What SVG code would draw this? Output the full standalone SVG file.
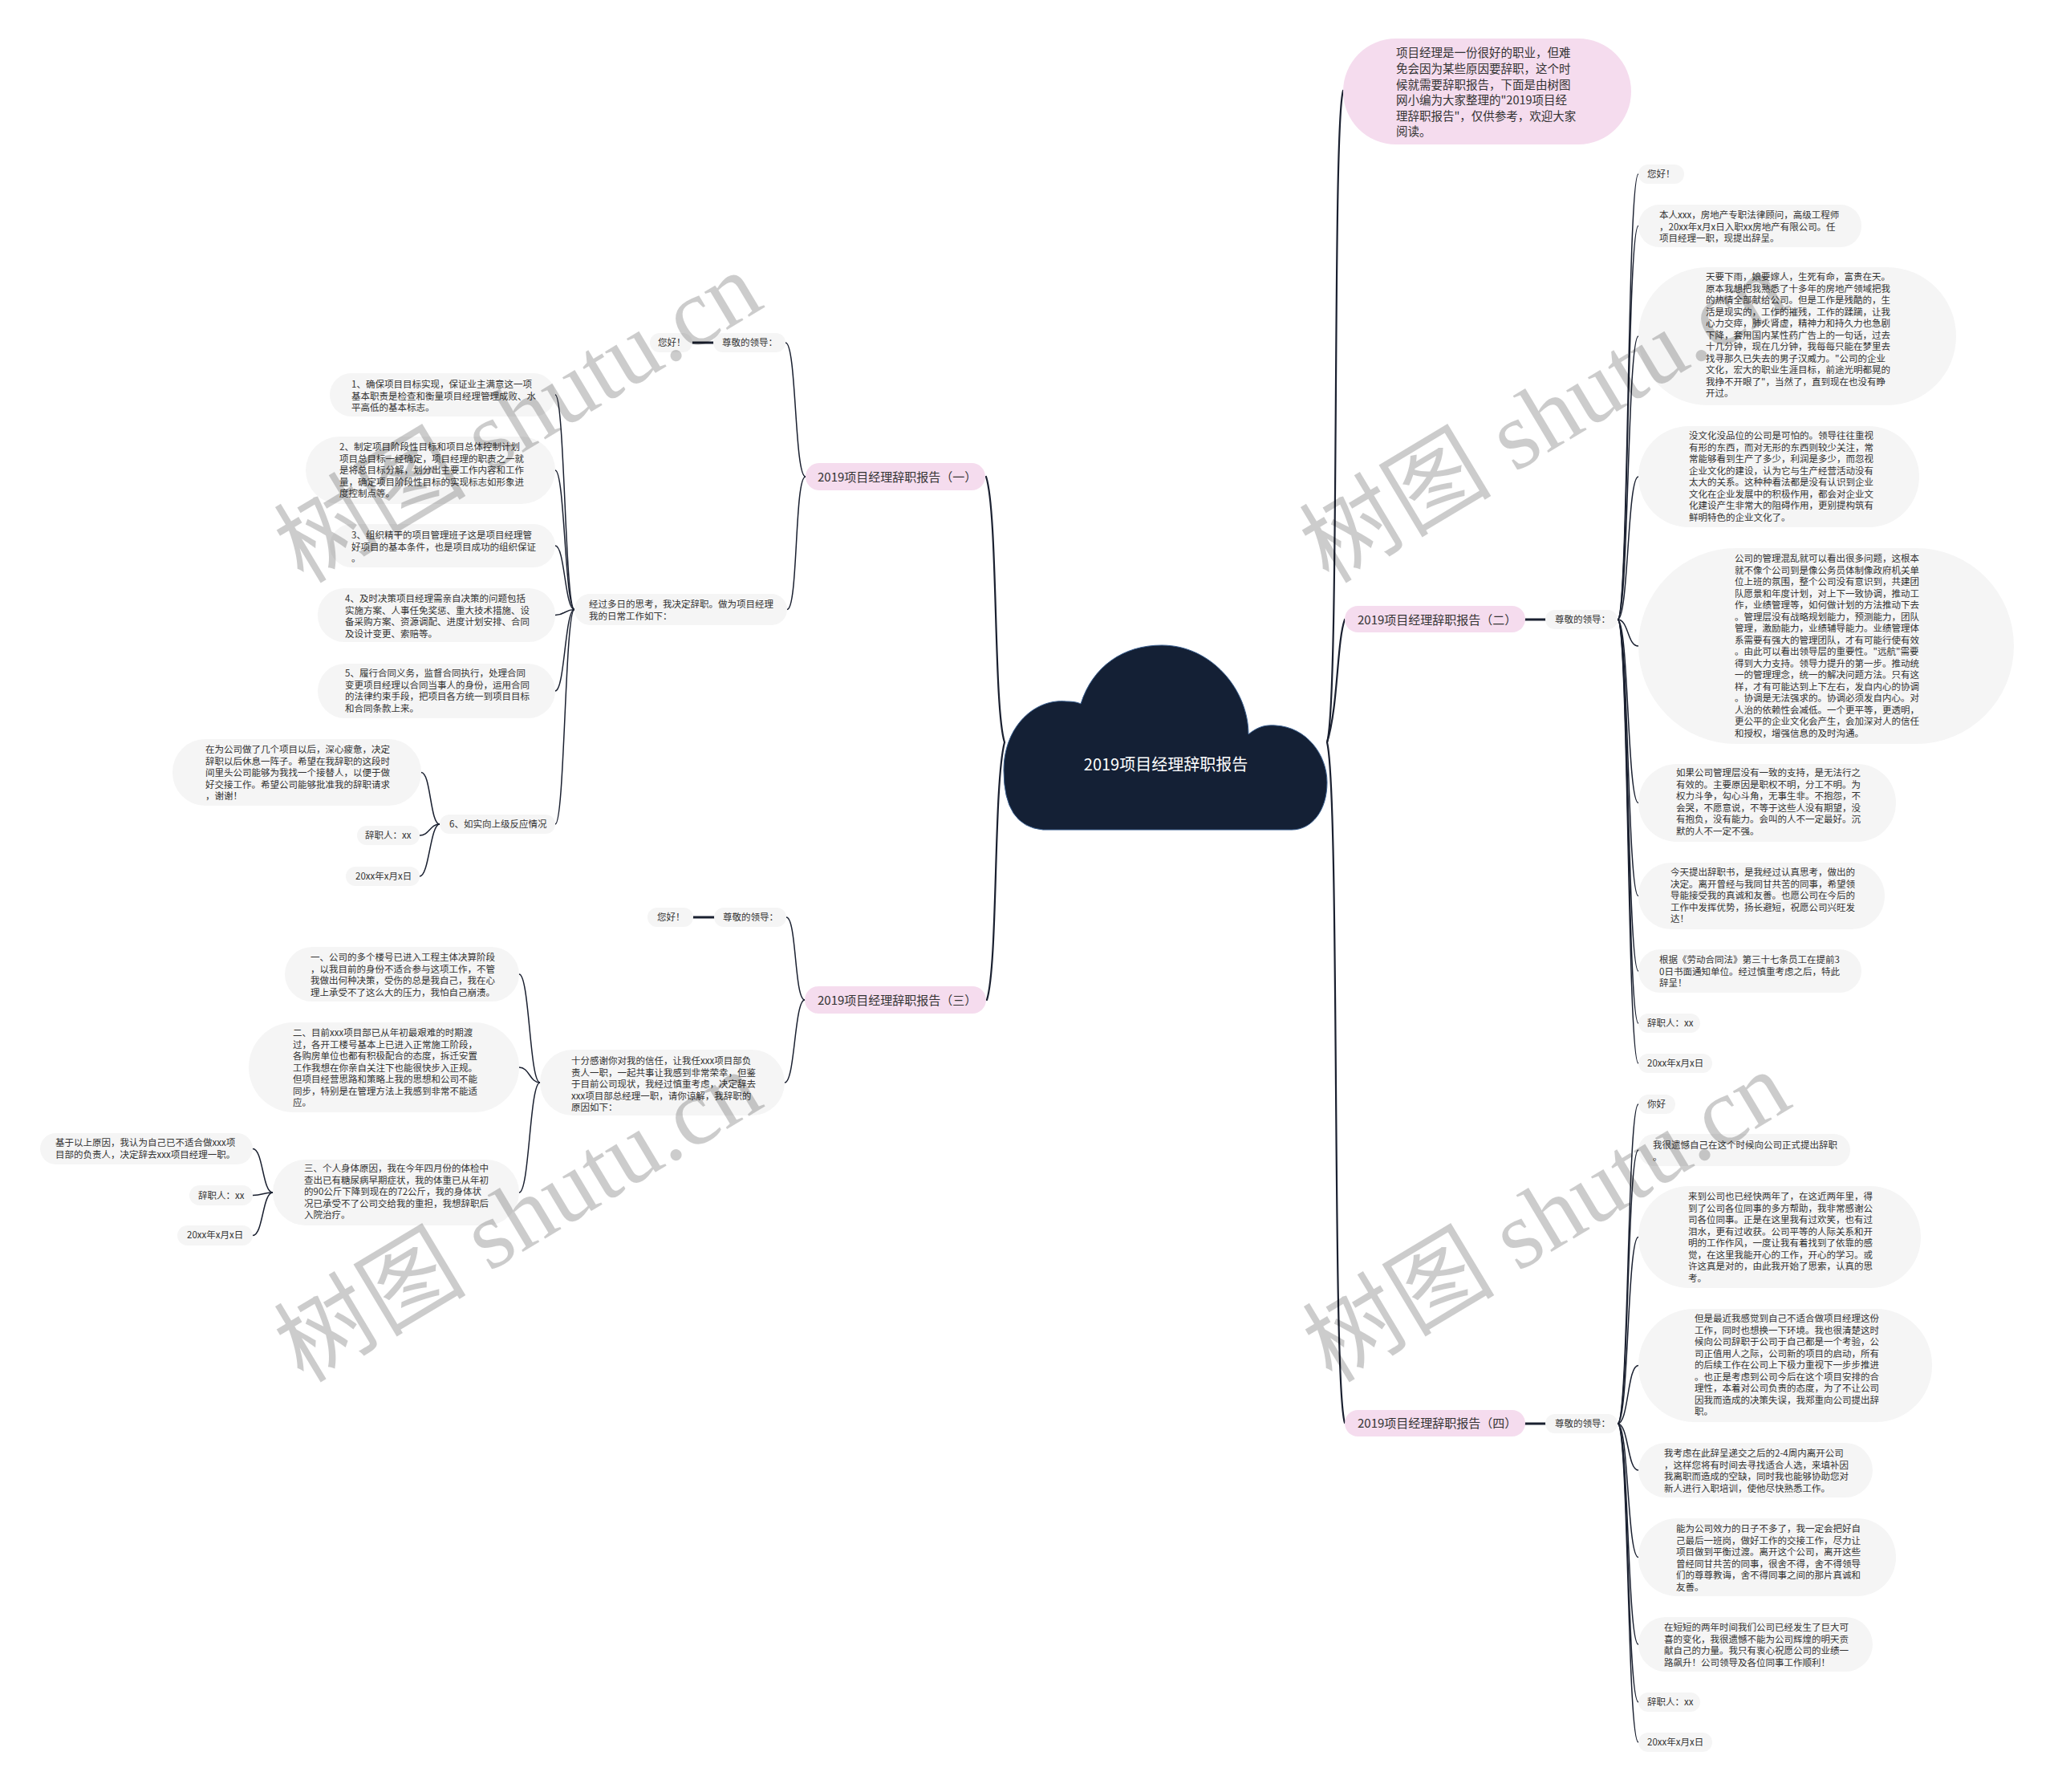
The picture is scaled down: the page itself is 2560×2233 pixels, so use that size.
<svg xmlns="http://www.w3.org/2000/svg" width="2560" height="2233" viewBox="0 0 2560 2233">
<style>
.n{fill:#f5f5f5}
.p{fill:#f5dcee}
.t{font-family:"Noto Sans CJK SC","Noto Sans",sans-serif;font-size:11.5px;fill:#333}
.b{font-size:15px}
.i{font-size:14.5px}
.c{fill:none;stroke:#1a2030;stroke-width:1.5;stroke-linecap:round}
.m{stroke-width:2.2}
.s{stroke-width:3}
.wm{font-family:"Liberation Serif",serif;font-size:120px;fill:#000;fill-opacity:0.2}
.wc{font-family:"Noto Sans CJK SC",sans-serif}
</style>
<rect x="0" y="0" width="2560" height="2233" fill="#ffffff"/>

<g id="connectors">
<path class="c m" d="M1252 925 C1238 880 1244 640 1229 594"/>
<path class="c m" d="M1252 925 C1238 980 1244 1200 1230 1246"/>
<path class="c m" d="M1654 925 C1670 870 1660 160 1674 113"/>
<path class="c m" d="M1654 925 C1668 880 1666 800 1676 772"/>
<path class="c m" d="M1654 925 C1670 990 1660 1720 1676 1773"/>
<path class="c s" d="M1901 772 H1926"/>
<path class="c s" d="M1901 1774 H1926"/>
<path class="c s" d="M863 427 H889"/>
<path class="c s" d="M864 1143 H890"/>
<!-- (二) children -->
<path class="c" d="M2016 772 C2030 772 2028 217 2042 217"/>
<path class="c" d="M2016 772 C2030 772 2028 281.5 2042 281.5"/>
<path class="c" d="M2016 772 C2030 772 2028 419 2042 419"/>
<path class="c" d="M2016 772 C2030 772 2028 594 2042 594"/>
<path class="c" d="M2016 772 C2030 772 2028 805 2042 805"/>
<path class="c" d="M2016 772 C2030 772 2028 1000.5 2042 1000.5"/>
<path class="c" d="M2016 772 C2030 772 2028 1116.5 2042 1116.5"/>
<path class="c" d="M2016 772 C2030 772 2028 1210 2042 1210"/>
<path class="c" d="M2016 772 C2030 772 2028 1275 2042 1275"/>
<path class="c" d="M2016 772 C2030 772 2028 1325 2042 1325"/>
<!-- (四) children -->
<path class="c" d="M2016 1774 C2030 1774 2028 1376 2042 1376"/>
<path class="c" d="M2016 1774 C2030 1774 2028 1433 2042 1433"/>
<path class="c" d="M2016 1774 C2030 1774 2028 1541.5 2042 1541.5"/>
<path class="c" d="M2016 1774 C2030 1774 2028 1701.5 2042 1701.5"/>
<path class="c" d="M2016 1774 C2030 1774 2028 1832 2042 1832"/>
<path class="c" d="M2016 1774 C2030 1774 2028 1940.5 2042 1940.5"/>
<path class="c" d="M2016 1774 C2030 1774 2028 2049 2042 2049"/>
<path class="c" d="M2016 1774 C2030 1774 2028 2121 2042 2121"/>
<path class="c" d="M2016 1774 C2030 1774 2028 2171 2042 2171"/>
<!-- (一) children -->
<path class="c" d="M1004 594 C990 594 993 427 979 427"/>
<path class="c" d="M1004 594 C990 594 995 759.5 981 759.5"/>
<path class="c" d="M716 759.5 C704 759.5 704 492 692 492"/>
<path class="c" d="M716 759.5 C704 759.5 704 586 692 586"/>
<path class="c" d="M716 759.5 C704 759.5 704 680 692 680"/>
<path class="c" d="M716 759.5 C704 759.5 704 766.5 692 766.5"/>
<path class="c" d="M716 759.5 C704 759.5 704 861 692 861"/>
<path class="c" d="M716 759.5 C704 759.5 704 1027 692 1027"/>
<path class="c" d="M548 1027 C536 1027 537 962.5 525 962.5"/>
<path class="c" d="M548 1027 C536 1027 535 1041 523 1041"/>
<path class="c" d="M548 1027 C536 1027 535 1092 523 1092"/>
<!-- (三) children -->
<path class="c" d="M1003 1246 C990 1246 993 1143 980 1143"/>
<path class="c" d="M1003 1246 C990 1246 991 1349 978 1349"/>
<path class="c" d="M673 1349 C660 1349 660 1214 647 1214"/>
<path class="c" d="M673 1349 C660 1349 660 1330 647 1330"/>
<path class="c" d="M673 1349 C660 1349 660 1486 647 1486"/>
<path class="c" d="M340 1486 C327 1486 328 1431.5 315 1431.5"/>
<path class="c" d="M340 1486 C327 1486 328 1489.5 315 1489.5"/>
<path class="c" d="M340 1486 C327 1486 328 1539.5 315 1539.5"/>
</g>

<g id="center">
<path d="M1300 1034 Q1251 1030 1251 960 C1251 905 1290 870 1329 874 C1337 874 1343 875 1347 877 C1362 830 1400 804 1448 804 C1510 804 1556 860 1556 915 C1568 905 1578 903 1590 904 C1628 906 1654 940 1654 975 C1654 1010 1635 1034 1610 1034 Z" fill="#142035" stroke="#3a5f8f" stroke-width="1"/>
<text class="t" x="1453" y="960" text-anchor="middle" style="font-size:20px;fill:#ffffff">2019项目经理辞职报告</text>
</g>

<g id="intro">
<rect class="p" x="1674" y="48" width="359" height="132" rx="66"/>
<text class="t i"><tspan x="1740" y="71.3">项目经理是一份很好的职业，但难</tspan><tspan x="1740" y="91">免会因为某些原因要辞职，这个时</tspan><tspan x="1740" y="110.5">候就需要辞职报告，下面是由树图</tspan><tspan x="1740" y="130">网小编为大家整理的"2019项目经</tspan><tspan x="1740" y="149.5">理辞职报告"，仅供参考，欢迎大家</tspan><tspan x="1740" y="169">阅读。</tspan></text>
</g>

<!-- Branch 二 -->
<g id="b2">
<rect class="p" x="1676" y="755" width="225" height="33" rx="16.5"/>
<text class="t b" x="1692" y="777.5">2019项目经理辞职报告（二）</text>
</g>
<g id="n2_dear"><rect class="n" x="1926" y="760" width="90" height="24" rx="12"/><text class="t" x="1938" y="776">尊敬的领导：</text></g>
<g id="n2_hello"><rect class="n" x="2042" y="205" width="57" height="24" rx="12"/><text class="t" x="2053" y="221">您好！</text></g>
<g id="n2_intro"><rect class="n" x="2042" y="255" width="278" height="53" rx="26"/><text class="t"><tspan x="2068" y="272">本人xxx，房地产专职法律顾问，高级工程师</tspan><tspan x="2068" y="286.5">，20xx年x月x日入职xx房地产有限公司。任</tspan><tspan x="2068" y="301">项目经理一职，现提出辞呈。</tspan></text></g>
<g id="n2_rain"><rect class="n" x="2042" y="333" width="396" height="172" rx="86"/><text class="t"><tspan x="2126" y="349">天要下雨，娘要嫁人，生死有命，富贵在天。</tspan><tspan x="2126" y="363.5">原本我想把我熟悉了十多年的房地产领域把我</tspan><tspan x="2126" y="378">的热情全部献给公司。但是工作是残酷的，生</tspan><tspan x="2126" y="392.5">活是现实的，工作的摧残，工作的蹂躏，让我</tspan><tspan x="2126" y="407">心力交瘁，肺火肾虚，精神力和持久力也急剧</tspan><tspan x="2126" y="421.5">下降，套用国内某性药广告上的一句话，过去</tspan><tspan x="2126" y="436">十几分钟，现在几分钟，我每每只能在梦里去</tspan><tspan x="2126" y="450.5">找寻那久已失去的男子汉威力。"公司的企业</tspan><tspan x="2126" y="465">文化，宏大的职业生涯目标，前途光明都晃的</tspan><tspan x="2126" y="479.5">我挣不开眼了"，当然了，直到现在也没有睁</tspan><tspan x="2126" y="494">开过。</tspan></text></g>
<g id="n2_culture"><rect class="n" x="2042" y="531" width="350" height="126" rx="63"/><text class="t"><tspan x="2105" y="547">没文化没品位的公司是可怕的。领导往往重视</tspan><tspan x="2105" y="561.5">有形的东西，而对无形的东西则较少关注，常</tspan><tspan x="2105" y="576">常能够看到生产了多少，利润是多少，而忽视</tspan><tspan x="2105" y="590.5">企业文化的建设，认为它与生产经营活动没有</tspan><tspan x="2105" y="605">太大的关系。这种种看法都是没有认识到企业</tspan><tspan x="2105" y="619.5">文化在企业发展中的积极作用，都会对企业文</tspan><tspan x="2105" y="634">化建设产生非常大的阻碍作用，更别提构筑有</tspan><tspan x="2105" y="648.5">鲜明特色的企业文化了。</tspan></text></g>
<g id="n2_mgmt"><rect class="n" x="2042" y="683" width="468" height="244" rx="122"/><text class="t"><tspan x="2162" y="700">公司的管理混乱就可以看出很多问题，这根本</tspan><tspan x="2162" y="714.5">就不像个公司到是像公务员体制像政府机关单</tspan><tspan x="2162" y="729">位上班的氛围，整个公司没有意识到，共建团</tspan><tspan x="2162" y="743.5">队愿景和年度计划，对上下一致协调，推动工</tspan><tspan x="2162" y="758">作，业绩管理等，如何做计划的方法推动下去</tspan><tspan x="2162" y="772.5">。管理层没有战略规划能力，预测能力，团队</tspan><tspan x="2162" y="787">管理，激励能力，业绩辅导能力。业绩管理体</tspan><tspan x="2162" y="801.5">系需要有强大的管理团队，才有可能行使有效</tspan><tspan x="2162" y="816">。由此可以看出领导层的重要性。"远航"需要</tspan><tspan x="2162" y="830.5">得到大力支持。领导力提升的第一步。推动统</tspan><tspan x="2162" y="845">一的管理理念，统一的解决问题方法。只有这</tspan><tspan x="2162" y="859.5">样，才有可能达到上下左右，发自内心的协调</tspan><tspan x="2162" y="874">。协调是无法强求的。协调必须发自内心。对</tspan><tspan x="2162" y="888.5">人治的依赖性会减低。一个更平等，更透明，</tspan><tspan x="2162" y="903">更公平的企业文化会产生，会加深对人的信任</tspan><tspan x="2162" y="917.5">和授权，增强信息的及时沟通。</tspan></text></g>
<g id="n2_support"><rect class="n" x="2042" y="952" width="321" height="97" rx="48"/><text class="t"><tspan x="2089" y="967">如果公司管理层没有一致的支持，是无法行之</tspan><tspan x="2089" y="981.5">有效的。主要原因是职权不明，分工不明。为</tspan><tspan x="2089" y="996">权力斗争，勾心斗角，无事生非。不抱怨，不</tspan><tspan x="2089" y="1010.5">会哭，不愿意说，不等于这些人没有期望，没</tspan><tspan x="2089" y="1025">有抱负，没有能力。会叫的人不一定最好。沉</tspan><tspan x="2089" y="1039.5">默的人不一定不强。</tspan></text></g>
<g id="n2_today"><rect class="n" x="2042" y="1075" width="307" height="83" rx="41"/><text class="t"><tspan x="2082" y="1091">今天提出辞职书，是我经过认真思考，做出的</tspan><tspan x="2082" y="1105.5">决定。离开曾经与我同甘共苦的同事，希望领</tspan><tspan x="2082" y="1120">导能接受我的真诚和友善。也愿公司在今后的</tspan><tspan x="2082" y="1134.5">工作中发挥优势，扬长避短，祝愿公司兴旺发</tspan><tspan x="2082" y="1149">达！</tspan></text></g>
<g id="n2_law"><rect class="n" x="2042" y="1183" width="278" height="54" rx="27"/><text class="t"><tspan x="2068" y="1200">根据《劳动合同法》第三十七条员工在提前3</tspan><tspan x="2068" y="1214.5">0日书面通知单位。经过慎重考虑之后，特此</tspan><tspan x="2068" y="1229">辞呈！</tspan></text></g>
<g id="n2_sign"><rect class="n" x="2042" y="1263" width="77" height="24" rx="12"/><text class="t" x="2053" y="1279">辞职人：xx</text></g>
<g id="n2_date"><rect class="n" x="2042" y="1313" width="92" height="24" rx="12"/><text class="t" x="2053" y="1329">20xx年x月x日</text></g>

<!-- Branch 四 -->
<g id="b4">
<rect class="p" x="1676" y="1757" width="225" height="33" rx="16.5"/>
<text class="t b" x="1692" y="1778.5">2019项目经理辞职报告（四）</text>
</g>
<g id="n4_dear"><rect class="n" x="1926" y="1762" width="90" height="24" rx="12"/><text class="t" x="1938" y="1778">尊敬的领导：</text></g>
<g id="n4_hello"><rect class="n" x="2042" y="1364" width="46" height="24" rx="12"/><text class="t" x="2053" y="1380">你好</text></g>
<g id="n4_regret"><rect class="n" x="2042" y="1413" width="264" height="40" rx="20"/><text class="t"><tspan x="2060" y="1431">我很遗憾自己在这个时候向公司正式提出辞职</tspan><tspan x="2060" y="1445.5">。</tspan></text></g>
<g id="n4_two"><rect class="n" x="2042" y="1478" width="352" height="127" rx="63"/><text class="t"><tspan x="2104" y="1495">来到公司也已经快两年了，在这近两年里，得</tspan><tspan x="2104" y="1509.5">到了公司各位同事的多方帮助，我非常感谢公</tspan><tspan x="2104" y="1524">司各位同事。正是在这里我有过欢笑，也有过</tspan><tspan x="2104" y="1538.5">泪水，更有过收获。公司平等的人际关系和开</tspan><tspan x="2104" y="1553">明的工作作风，一度让我有着找到了依靠的感</tspan><tspan x="2104" y="1567.5">觉，在这里我能开心的工作，开心的学习。或</tspan><tspan x="2104" y="1582">许这真是对的，由此我开始了思索，认真的思</tspan><tspan x="2104" y="1596.5">考。</tspan></text></g>
<g id="n4_but"><rect class="n" x="2042" y="1631" width="366" height="141" rx="70"/><text class="t"><tspan x="2112" y="1647">但是最近我感觉到自己不适合做项目经理这份</tspan><tspan x="2112" y="1661.5">工作，同时也想换一下环境。我也很清楚这时</tspan><tspan x="2112" y="1676">候向公司辞职于公司于自己都是一个考验，公</tspan><tspan x="2112" y="1690.5">司正值用人之际，公司新的项目的启动，所有</tspan><tspan x="2112" y="1705">的后续工作在公司上下极力重视下一步步推进</tspan><tspan x="2112" y="1719.5">。也正是考虑到公司今后在这个项目安排的合</tspan><tspan x="2112" y="1734">理性，本着对公司负责的态度，为了不让公司</tspan><tspan x="2112" y="1748.5">因我而造成的决策失误，我郑重向公司提出辞</tspan><tspan x="2112" y="1763">职。</tspan></text></g>
<g id="n4_consider"><rect class="n" x="2042" y="1798" width="292" height="68" rx="34"/><text class="t"><tspan x="2074" y="1815">我考虑在此辞呈递交之后的2-4周内离开公司</tspan><tspan x="2074" y="1829.5">，这样您将有时间去寻找适合人选，来填补因</tspan><tspan x="2074" y="1844">我离职而造成的空缺，同时我也能够协助您对</tspan><tspan x="2074" y="1858.5">新人进行入职培训，使他尽快熟悉工作。</tspan></text></g>
<g id="n4_serve"><rect class="n" x="2042" y="1892" width="321" height="97" rx="48"/><text class="t"><tspan x="2089" y="1909">能为公司效力的日子不多了，我一定会把好自</tspan><tspan x="2089" y="1923.5">己最后一班岗，做好工作的交接工作，尽力让</tspan><tspan x="2089" y="1938">项目做到平衡过渡。离开这个公司，离开这些</tspan><tspan x="2089" y="1952.5">曾经同甘共苦的同事，很舍不得，舍不得领导</tspan><tspan x="2089" y="1967">们的尊尊教诲，舍不得同事之间的那片真诚和</tspan><tspan x="2089" y="1981.5">友善。</tspan></text></g>
<g id="n4_short"><rect class="n" x="2042" y="2015" width="292" height="68" rx="34"/><text class="t"><tspan x="2074" y="2032">在短短的两年时间我们公司已经发生了巨大可</tspan><tspan x="2074" y="2046.5">喜的变化，我很遗憾不能为公司辉煌的明天贡</tspan><tspan x="2074" y="2061">献自己的力量。我只有衷心祝愿公司的业绩一</tspan><tspan x="2074" y="2075.5">路飙升！公司领导及各位同事工作顺利！</tspan></text></g>
<g id="n4_sign"><rect class="n" x="2042" y="2109" width="77" height="24" rx="12"/><text class="t" x="2053" y="2125">辞职人：xx</text></g>
<g id="n4_date"><rect class="n" x="2042" y="2159" width="92" height="24" rx="12"/><text class="t" x="2053" y="2175">20xx年x月x日</text></g>

<!-- Branch 一 -->
<g id="b1">
<rect class="p" x="1004" y="577" width="224" height="34" rx="17"/>
<text class="t b" x="1019" y="599.5">2019项目经理辞职报告（一）</text>
</g>
<g id="n1_dear"><rect class="n" x="889" y="415" width="90" height="24" rx="12"/><text class="t" x="900" y="431">尊敬的领导：</text></g>
<g id="n1_hello"><rect class="n" x="810" y="415" width="53" height="24" rx="12"/><text class="t" x="820" y="431">您好！</text></g>
<g id="n1_daily"><rect class="n" x="716" y="740" width="265" height="39" rx="19.5"/><text class="t"><tspan x="734" y="757">经过多日的思考，我决定辞职。做为项目经理</tspan><tspan x="734" y="771.5">我的日常工作如下：</tspan></text></g>
<g id="n1_1"><rect class="n" x="411" y="465" width="281" height="54" rx="27"/><text class="t"><tspan x="438" y="483">1、确保项目目标实现，保证业主满意这一项</tspan><tspan x="438" y="497.5">基本职责是检查和衡量项目经理管理成败、水</tspan><tspan x="438" y="512">平高低的基本标志。</tspan></text></g>
<g id="n1_2"><rect class="n" x="381" y="544" width="311" height="84" rx="42"/><text class="t"><tspan x="423" y="561">2、制定项目阶段性目标和项目总体控制计划</tspan><tspan x="423" y="575.5">项目总目标一经确定，项目经理的职责之一就</tspan><tspan x="423" y="590">是将总目标分解，划分出主要工作内容和工作</tspan><tspan x="423" y="604.5">量，确定项目阶段性目标的实现标志如形象进</tspan><tspan x="423" y="619">度控制点等。</tspan></text></g>
<g id="n1_3"><rect class="n" x="411" y="653" width="281" height="54" rx="27"/><text class="t"><tspan x="438" y="671">3、组织精干的项目管理班子这是项目经理管</tspan><tspan x="438" y="685.5">好项目的基本条件，也是项目成功的组织保证</tspan><tspan x="438" y="700">。</tspan></text></g>
<g id="n1_4"><rect class="n" x="396" y="733" width="296" height="67" rx="33"/><text class="t"><tspan x="430" y="750">4、及时决策项目经理需亲自决策的问题包括</tspan><tspan x="430" y="764.5">实施方案、人事任免奖惩、重大技术措施、设</tspan><tspan x="430" y="779">备采购方案、资源调配、进度计划安排、合同</tspan><tspan x="430" y="793.5">及设计变更、索赔等。</tspan></text></g>
<g id="n1_5"><rect class="n" x="396" y="827" width="296" height="68" rx="34"/><text class="t"><tspan x="430" y="843">5、履行合同义务，监督合同执行，处理合同</tspan><tspan x="430" y="857.5">变更项目经理以合同当事人的身份，运用合同</tspan><tspan x="430" y="872">的法律约束手段，把项目各方统一到项目目标</tspan><tspan x="430" y="886.5">和合同条款上来。</tspan></text></g>
<g id="n1_6"><rect class="n" x="548" y="1015" width="144" height="24" rx="12"/><text class="t" x="560" y="1031">6、如实向上级反应情况</text></g>
<g id="n1_6a"><rect class="n" x="215" y="921" width="310" height="83" rx="41"/><text class="t"><tspan x="256" y="938">在为公司做了几个项目以后，深心疲惫，决定</tspan><tspan x="256" y="952.5">辞职以后休息一阵子。希望在我辞职的这段时</tspan><tspan x="256" y="967">间里头公司能够为我找一个接替人，以便于做</tspan><tspan x="256" y="981.5">好交接工作。希望公司能够批准我的辞职请求</tspan><tspan x="256" y="996">，谢谢！</tspan></text></g>
<g id="n1_6b"><rect class="n" x="445" y="1029" width="78" height="24" rx="12"/><text class="t" x="455" y="1045">辞职人：xx</text></g>
<g id="n1_6c"><rect class="n" x="431" y="1080" width="92" height="24" rx="12"/><text class="t" x="443" y="1096">20xx年x月x日</text></g>

<!-- Branch 三 -->
<g id="b3">
<rect class="p" x="1003" y="1229" width="226" height="34" rx="17"/>
<text class="t b" x="1019" y="1251.5">2019项目经理辞职报告（三）</text>
</g>
<g id="n3_dear"><rect class="n" x="890" y="1131" width="90" height="24" rx="12"/><text class="t" x="901" y="1147">尊敬的领导：</text></g>
<g id="n3_hello"><rect class="n" x="807" y="1131" width="57" height="24" rx="12"/><text class="t" x="819" y="1147">您好！</text></g>
<g id="n3_thanks"><rect class="n" x="673" y="1308" width="305" height="82" rx="41"/><text class="t"><tspan x="712" y="1326">十分感谢你对我的信任，让我任xxx项目部负</tspan><tspan x="712" y="1340.5">责人一职，一起共事让我感到非常荣幸，但鉴</tspan><tspan x="712" y="1355">于目前公司现状，我经过慎重考虑，决定辞去</tspan><tspan x="712" y="1369.5">xxx项目部总经理一职，请你谅解，我辞职的</tspan><tspan x="712" y="1384">原因如下：</tspan></text></g>
<g id="n3_1"><rect class="n" x="355" y="1180" width="292" height="68" rx="34"/><text class="t"><tspan x="387" y="1197">一、公司的多个楼号已进入工程主体决算阶段</tspan><tspan x="387" y="1211.5">，以我目前的身份不适合参与这项工作，不管</tspan><tspan x="387" y="1226">我做出何种决策，受伤的总是我自己，我在心</tspan><tspan x="387" y="1240.5">理上承受不了这么大的压力，我怕自己崩溃。</tspan></text></g>
<g id="n3_2"><rect class="n" x="310" y="1274" width="337" height="112" rx="56"/><text class="t"><tspan x="365" y="1291">二、目前xxx项目部已从年初最艰难的时期渡</tspan><tspan x="365" y="1305.5">过，各开工楼号基本上已进入正常施工阶段，</tspan><tspan x="365" y="1320">各购房单位也都有积极配合的态度，拆迁安置</tspan><tspan x="365" y="1334.5">工作我想在你亲自关注下也能很快步入正规。</tspan><tspan x="365" y="1349">但项目经营思路和策略上我的思想和公司不能</tspan><tspan x="365" y="1363.5">同步，特别是在管理方法上我感到非常不能适</tspan><tspan x="365" y="1378">应。</tspan></text></g>
<g id="n3_3"><rect class="n" x="340" y="1445" width="307" height="82" rx="41"/><text class="t"><tspan x="379" y="1460">三、个人身体原因，我在今年四月份的体检中</tspan><tspan x="379" y="1474.5">查出已有糖尿病早期症状，我的体重已从年初</tspan><tspan x="379" y="1489">的90公斤下降到现在的72公斤，我的身体状</tspan><tspan x="379" y="1503.5">况已承受不了公司交给我的重担，我想辞职后</tspan><tspan x="379" y="1518">入院治疗。</tspan></text></g>
<g id="n3_3a"><rect class="n" x="50" y="1412" width="265" height="39" rx="19.5"/><text class="t"><tspan x="69" y="1428">基于以上原因，我认为自己已不适合做xxx项</tspan><tspan x="69" y="1442.5">目部的负责人，决定辞去xxx项目经理一职。</tspan></text></g>
<g id="n3_3b"><rect class="n" x="236" y="1477" width="79" height="25" rx="12.5"/><text class="t" x="247" y="1494">辞职人：xx</text></g>
<g id="n3_3c"><rect class="n" x="221" y="1527" width="94" height="25" rx="12.5"/><text class="t" x="233" y="1543">20xx年x月x日</text></g>

<g id="watermarks">
<text class="wm" text-anchor="middle" transform="translate(645 519) rotate(-31)" y="42"><tspan class="wc">树图</tspan> shutu.cn</text>
<text class="wm" text-anchor="middle" transform="translate(645 1515) rotate(-31)" y="42"><tspan class="wc">树图</tspan> shutu.cn</text>
<text class="wm" text-anchor="middle" transform="translate(1923 519) rotate(-31)" y="42"><tspan class="wc">树图</tspan> shutu.cn</text>
<text class="wm" text-anchor="middle" transform="translate(1927 1515) rotate(-31)" y="42"><tspan class="wc">树图</tspan> shutu.cn</text>
</g>
</svg>
